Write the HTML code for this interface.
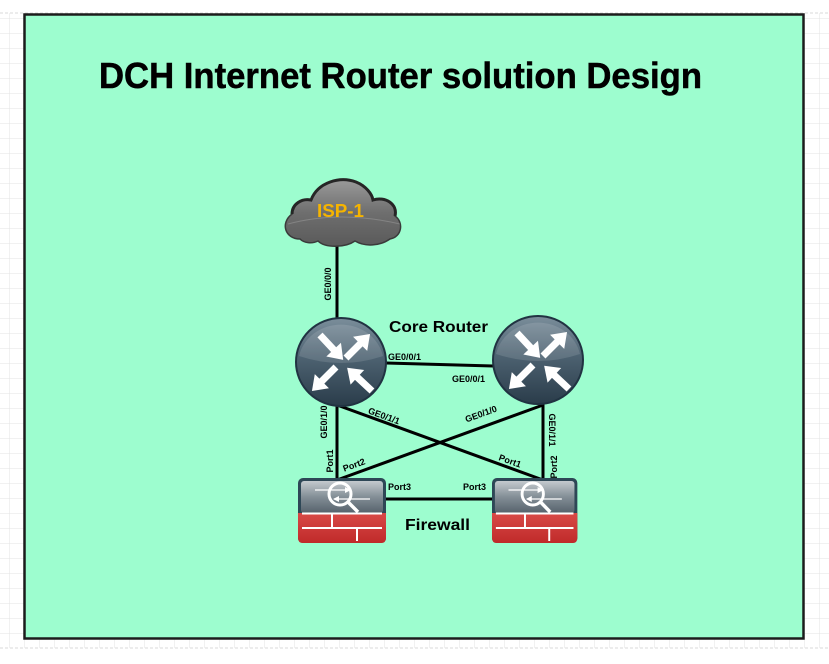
<!DOCTYPE html>
<html><head><meta charset="utf-8">
<style>
html,body{margin:0;padding:0;background:#fff;}
svg{display:block;}
text{font-family:"Liberation Sans",Arial,sans-serif;font-weight:bold;}
</style></head>
<body>
<svg width="829" height="664" viewBox="0 0 829 664" xmlns="http://www.w3.org/2000/svg">
<defs>
  <pattern id="grid" x="9" y="3" width="15" height="15" patternUnits="userSpaceOnUse">
    <path d="M0 0 H15 M0 0 V15" stroke="#e3e3e3" stroke-width="1" fill="none"/>
  </pattern>
  <linearGradient id="rg" x1="0" y1="0" x2="0" y2="1">
    <stop offset="0" stop-color="#7b8e9b"/>
    <stop offset="0.45" stop-color="#4d6271"/>
    <stop offset="1" stop-color="#2a3c4a"/>
  </linearGradient>
  <linearGradient id="cg" x1="0" y1="0" x2="0" y2="1">
    <stop offset="0" stop-color="#9a9a9a"/>
    <stop offset="0.5" stop-color="#6e6e6e"/>
    <stop offset="1" stop-color="#5a5a5a"/>
  </linearGradient>
  <linearGradient id="fg" x1="0" y1="0" x2="0" y2="1">
    <stop offset="0" stop-color="#c4cace"/>
    <stop offset="0.5" stop-color="#838e96"/>
    <stop offset="1" stop-color="#56626c"/>
  </linearGradient>
  <linearGradient id="redg" x1="0" y1="0" x2="0" y2="1">
    <stop offset="0" stop-color="#d84a47"/>
    <stop offset="1" stop-color="#c02a2a"/>
  </linearGradient>
  <polygon id="arr" points="0,-3.5 20,-3.5 20,-10 34,0 20,10 20,3.5 0,3.5" fill="#fff"/>
  <g id="router">
    <ellipse cx="0" cy="0" rx="45" ry="44" fill="url(#rg)" stroke="#213342" stroke-width="2"/>
    <path d="M-42,-6 A43,40 0 0 1 42,-6 Q0,8 -42,-6 Z" fill="#fff" opacity="0.12"/>
    <use href="#arr" transform="translate(-21,-27) rotate(47)"/>
    <use href="#arr" transform="translate(5,-4) rotate(-45)"/>
    <use href="#arr" transform="translate(-5,5) rotate(135)"/>
    <use href="#arr" transform="translate(31,29) rotate(-137)"/>
  </g>
  <g id="fw">
    <rect x="0" y="0" width="88" height="65" rx="5" fill="#2e4756"/>
    <rect x="3" y="3" width="82" height="32" rx="3" fill="url(#fg)"/>
    <path d="M0,35 H88 V60 Q88,65 83,65 H5 Q0,65 0,60 Z" fill="url(#redg)"/>
    <path d="M4,35.5 H84 M4,50 H84 M34,35 V50 M59,50 V63" stroke="#fff" stroke-width="2" fill="none"/>
    <circle cx="42" cy="16" r="11" fill="none" stroke="#fff" stroke-width="3"/>
    <path d="M50,24 L60,34" stroke="#fff" stroke-width="3.5"/>
    <path d="M17,12 H52 M36,21 H72" stroke="#fff" stroke-width="1.3"/>
    <path d="M47,9 L53,12 L47,15 Z M41,18 L35,21 L41,24 Z" fill="#fff"/>
  </g>
</defs>

<rect x="0" y="13" width="829" height="635" fill="url(#grid)"/>
<line x1="0" y1="13" x2="829" y2="13" stroke="#d8d8d8" stroke-dasharray="3,2"/>
<line x1="0" y1="648" x2="829" y2="648" stroke="#d8d8d8" stroke-dasharray="3,2"/>

<rect x="24.5" y="14.5" width="779" height="624" fill="#9dfdcf" stroke="#1c1c1c" stroke-width="2.5"/>

<text x="99" y="88" font-size="36" textLength="603" lengthAdjust="spacingAndGlyphs" fill="#000" stroke="#000" stroke-width="0.5">DCH Internet Router solution Design</text>

<!-- connectors -->
<g stroke="#000" stroke-width="3" fill="none">
  <line x1="337" y1="244" x2="337" y2="320"/>
  <line x1="386" y1="363" x2="493" y2="366"/>
  <line x1="337" y1="404" x2="337" y2="480"/>
  <line x1="543" y1="404" x2="543" y2="480"/>
  <line x1="337" y1="405" x2="543" y2="480"/>
  <line x1="543" y1="405" x2="337" y2="480"/>
  <line x1="386" y1="499" x2="493" y2="499"/>
</g>

<!-- cloud -->
<path d="M300,239 C285,239 280,223 292,214 C292,204 302,198 311,200 C318,182 340,176 356,182 C366,186 372,194 373,200 C385,196 398,204 395,216 C404,222 402,237 390,239 C380,246 365,247 355,241 C345,248 325,248 318,241 C312,244 304,243 300,239 Z" fill="url(#cg)" stroke="#3a3a3a" stroke-width="1.5"/>
<path d="M292,214 C292,204 302,198 311,200 C318,182 340,176 356,182 C366,186 372,194 373,200 C385,196 398,204 395,216" fill="none" stroke="#262626" stroke-width="3"/>
<path d="M288,224 Q340,210 400,224" fill="none" stroke="#fff" stroke-opacity="0.18" stroke-width="1"/>
<text x="317" y="217" font-size="18" fill="#f6b400" textLength="47" lengthAdjust="spacingAndGlyphs">ISP-1</text>

<!-- routers -->
<use href="#router" transform="translate(341,362)"/>
<use href="#router" transform="translate(538,360)"/>

<!-- firewalls -->
<use href="#fw" transform="translate(298,478)"/>
<use href="#fw" transform="translate(492,478) scale(0.97,1)"/>

<text x="389" y="332" font-size="16" textLength="99" lengthAdjust="spacingAndGlyphs">Core Router</text>
<text x="405" y="530" font-size="16" textLength="65" lengthAdjust="spacingAndGlyphs">Firewall</text>

<g font-size="9" fill="#000">
  <text transform="translate(328,284) rotate(-90)" text-anchor="middle" y="3">GE0/0/0</text>
  <text x="388" y="360">GE0/0/1</text>
  <text x="452" y="382">GE0/0/1</text>
  <text transform="translate(324,422) rotate(-90)" text-anchor="middle" y="3">GE0/1/0</text>
  <text transform="translate(384,416) rotate(20)" text-anchor="middle" y="3">GE0/1/1</text>
  <text transform="translate(481,414) rotate(-20)" text-anchor="middle" y="3">GE0/1/0</text>
  <text transform="translate(552,430) rotate(90)" text-anchor="middle" y="3">GE0/1/1</text>
  <text transform="translate(330,461) rotate(-90)" text-anchor="middle" y="3">Port1</text>
  <text transform="translate(354,465) rotate(-20)" text-anchor="middle" y="3">Port2</text>
  <text transform="translate(510,461) rotate(20)" text-anchor="middle" y="3">Port1</text>
  <text transform="translate(554,467) rotate(-90)" text-anchor="middle" y="3">Port2</text>
  <text x="388" y="490">Port3</text>
  <text x="463" y="490">Port3</text>
</g>
</svg>
</body></html>
